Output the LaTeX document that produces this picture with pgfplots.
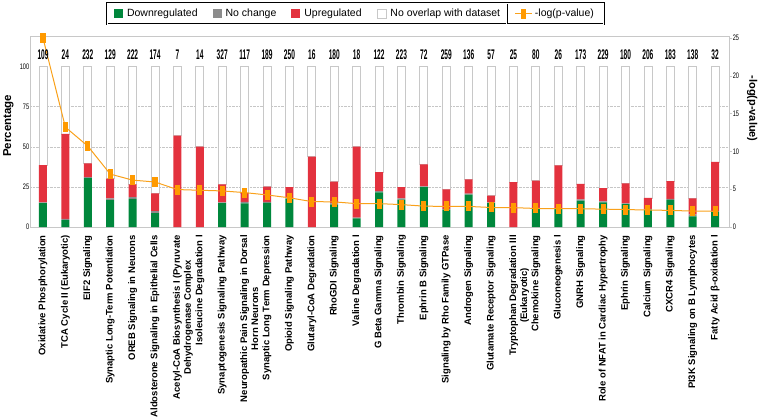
\documentclass[border=0pt]{standalone}
\usepackage{pgfplots}
\usepackage{pgfplotstable}
\pgfplotsset{compat=1.18}
\usepackage{fontspec}
\setmainfont{Liberation Sans}
\definecolor{dgreen}{HTML}{00873C}
\definecolor{ured}{HTML}{E3323E}
\definecolor{ncgray}{HTML}{8C8C8C}
\definecolor{bgray}{HTML}{C8C8C8}
\definecolor{lorange}{HTML}{F9A11B}
\definecolor{morange}{HTML}{FF9A00}
\newcommand{\twoline}[2]{\raisebox{0pt}[\height][2.6pt]{\begin{tabular}[t]{@{}c@{}}#1\\#2\end{tabular}}}
\pgfplotsset{sqleg/.style={legend image code/.code={\path[##1] (0pt,-4.5pt) rectangle (9pt,4.5pt);}}}

\pgfplotstableread{
x down nc up no p cy n
0 14.8 0.6 23.1 61.5 25.0 22.75 109
1 4.3 0.7 53.0 42.0 13.2 22.75 24
2 30.4 0.6 8.6 60.4 10.7 22.75 232
3 16.8 1.0 12.4 69.8 7.0 22.75 129
4 17.6 1.0 8.0 73.4 6.2 22.75 222
5 8.7 1.2 11.1 79.0 5.95 22.75 174
6 0 0 57.0 43.0 4.95 22.75 7
7 0 0 50.0 50.0 4.86 22.75 14
8 14.8 0.6 11.2 73.4 4.77 22.75 327
9 14.7 0.9 5.6 78.8 4.55 22.75 117
10 15.1 0.5 9.6 74.8 4.24 22.75 189
11 17.3 0.7 6.8 75.2 3.86 22.75 250
12 0 0 43.8 56.2 3.36 22.75 16
13 13.8 0.9 13.6 71.7 3.32 22.75 180
14 5.3 0.6 44.1 50.0 3.09 22.75 18
15 21.6 0.8 11.8 65.8 3.09 22.75 122
16 17.0 0.8 7.0 75.2 2.96 22.75 223
17 24.8 0.5 13.7 61.0 2.76 22.75 72
18 10.8 0.5 12.2 76.5 2.72 22.75 259
19 20.1 0.7 8.8 70.4 2.72 22.75 136
20 14.8 0.5 4.2 80.5 2.58 22.75 57
21 0 0 28.0 72.0 2.56 22.75 25
22 11.3 0.6 17.0 71.1 2.45 22.75 80
23 11.3 0.5 26.6 61.6 2.43 22.75 26
24 16.4 0.8 9.6 73.2 2.42 22.75 173
25 15.3 0.6 8.3 75.8 2.36 22.75 229
26 14.2 0.5 12.5 72.8 2.31 22.75 180
27 10.8 0.5 6.8 81.9 2.24 22.75 206
28 16.9 0.7 11.0 71.4 2.20 22.75 183
29 6.6 1.2 10.1 82.1 2.10 22.75 138
30 9.5 0.5 30.5 59.5 2.08 22.75 32
}\data

\begin{document}
\begin{tikzpicture}
\useasboundingbox (-30pt,-193pt) rectangle (730pt,227pt);
\begin{axis}[
  at={(0pt,0pt)}, anchor=south west,
  scale only axis, width=699pt, height=191pt,
  xmin=-0.58, xmax=30.62, ymin=0, ymax=119,
  ybar stacked, bar width=8pt,
  xtick={0,...,30},
  xticklabels={Oxidative Phosphorylation, TCA Cycle II (Eukaryotic), EIF2 Signaling, Synaptic Long-Term Potentiation, OREB Signaling in Neurons, Aldosterone Signaling in Epithelial Cells, {\twoline{Acetyl-CoA Biosynthesis I (Pyruvate}{Dehydrogenase Complex}}, Isoleucine Degradation I, Synaptogenesis Signaling Pathway, {\twoline{Neuropathic Pain Signaling in Dorsal}{Horn Neurons}}, Synaptic Long Term Depression, Opioid Signaling Pathway, Glutaryl-CoA Degradation, RhoGDI Signaling, Valine Degradation I, G Beta Gamma Signaling, Thrombin Signaling, Ephrin B Signaling, Signaling by Rho Family GTPase, Androgen Signaling, Glutamate Receptor Signaling, {\twoline{Tryptophan Degradation III}{(Eukaryotic)}}, Chemokine Signaling, Gluconeogenesis I, GNRH Signaling, Role of NFAT in Cardiac Hypertrophy, Ephrin Signaling, Calcium Signaling, CXCR4 Signaling, PI3K Signaling on B Lymphocytes, Fatty Acid β-oxidation I},
  xticklabel style={rotate=90, anchor=east, font=\bfseries\fontsize{9.5}{11}\selectfont, inner sep=0pt},
  xticklabel shift=8pt,
  major tick length=0pt,
  ytick={0,25,50,75,100},
  yticklabel style={font=\fontsize{8}{8}\selectfont, xscale=0.7, inner sep=1pt},
  extra y ticks={25,50,75}, extra y tick labels={},
  extra y tick style={grid=major, major grid style={gray!45, densely dotted}},
  axis line style={bgray, line width=0.8pt},
  ylabel={Percentage},
  ylabel style={font=\bfseries\fontsize{11.5}{12}\selectfont, at={(rel axis cs:-0.031,0.53)}, anchor=center},
  /pgf/number format/assume math mode=true,
  legend columns=4,
  legend style={at={(rel axis cs:0.1098,1.1728)}, anchor=north west, draw=black, double=white, double distance=1pt, line width=0.5pt, font=\fontsize{10.5}{12}\selectfont, /tikz/every even column/.append style={column sep=13pt}, /tikz/every odd column/.append style={column sep=2pt}, inner xsep=7pt, inner ysep=4pt},
]
\addplot[fill=dgreen, draw=none, sqleg] table[x=x,y=down]{\data};
\addlegendentry{Downregulated}
\addplot[fill=ncgray, draw=none, sqleg] table[x=x,y=nc]{\data};
\addlegendentry{No change}
\addplot[fill=ured, draw=none, sqleg] table[x=x,y=up]{\data};
\addlegendentry{Upregulated}
\addplot[fill=white, draw=bgray, line width=0.8pt, sqleg] table[x=x,y=no]{\data};
\addlegendentry{No overlap with dataset}
\end{axis}
\begin{axis}[
  at={(0pt,0pt)}, anchor=south west,
  scale only axis, width=699pt, height=191pt,
  xmin=-0.58, xmax=30.62, ymin=0, ymax=25.26,
  axis y line*=right, axis x line=none,
  ytick={0,5,...,25},
  yticklabel style={font=\fontsize{8}{8}\selectfont, xscale=0.7, inner sep=1pt},
  major tick length=3pt, tick align=outside, ytick style={bgray},
  axis line style={bgray, line width=0.8pt},
  ylabel={-log(p-value)},
  ylabel style={font=\bfseries\fontsize{11}{12}\selectfont, at={(rel axis cs:1.033,0.62)}, rotate=180, anchor=center},
  /pgf/number format/assume math mode=true,
  clip=false,
  legend style={at={(rel axis cs:0.6819,1.1728)}, anchor=north west, draw=black, double=white, double distance=1pt, line width=0.5pt, font=\fontsize{10.5}{12}\selectfont, inner xsep=8pt, inner ysep=4pt},
]
\addplot[lorange, line width=1pt, mark=square*, mark size=4.5pt, mark options={xscale=0.45, fill=morange, draw=morange}] table[x=x,y=p]{\data};
\addlegendentry{-log(p-value)}
\addplot[draw=none, mark=none, forget plot, nodes near coords, point meta=explicit symbolic,
  every node near coord/.append style={font=\bfseries\fontsize{14}{14}\selectfont, xscale=0.47, anchor=center, inner sep=0pt, black}]
  table[x=x,y=cy,meta=n]{\data};
\end{axis}
\end{tikzpicture}
\end{document}
